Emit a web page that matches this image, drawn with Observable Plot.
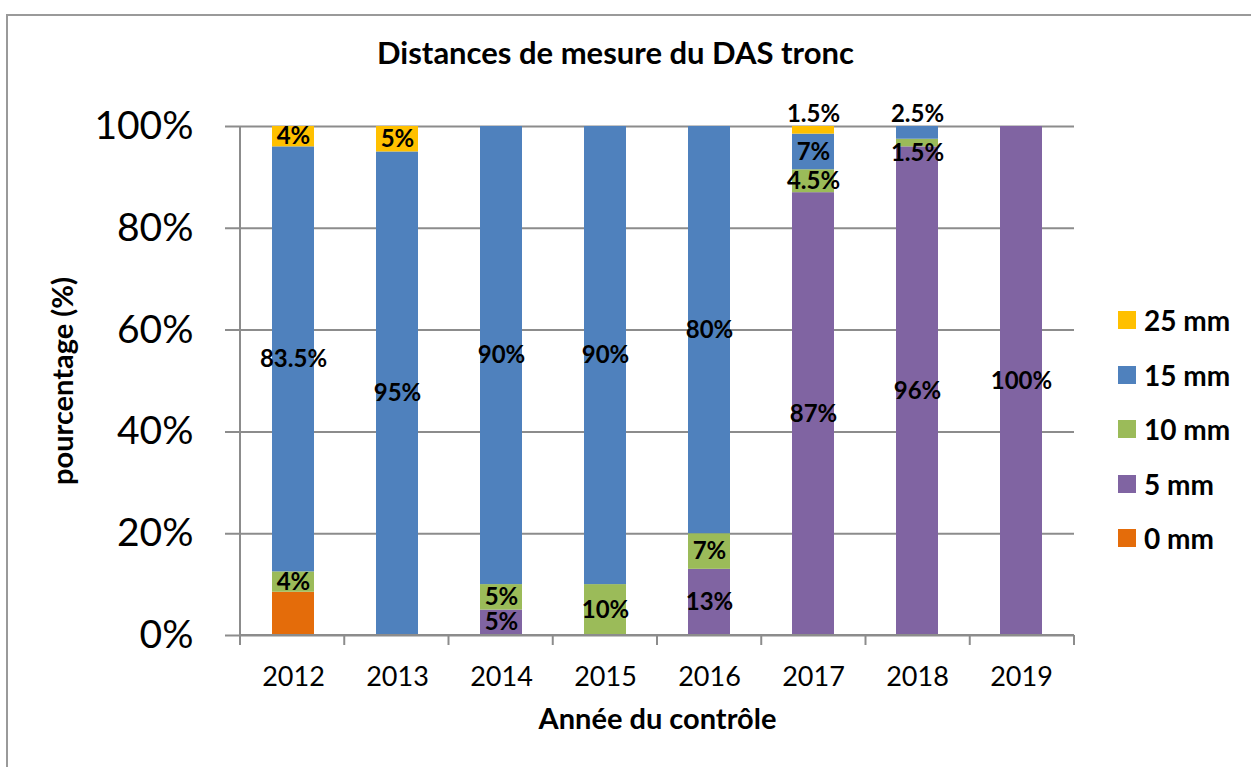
<!DOCTYPE html>
<html><head><meta charset="utf-8">
<script src="https://cdn.jsdelivr.net/npm/d3@7"></script>
<script src="https://cdn.jsdelivr.net/npm/@observablehq/plot@0.6"></script>
<style>
body{margin:0;background:#fff;font-family:Lato,"Open Sans",sans-serif;}
#wrap{position:relative;width:1251px;height:767px;overflow:hidden;}
#frame{position:absolute;left:6px;top:14px;width:1300px;height:800px;border-top:2px solid #9a9a9a;border-left:2px solid #9a9a9a;}
#title{position:absolute;left:0;width:1231px;top:35px;text-align:center;font:bold 31px Lato,sans-serif;line-height:34px;color:#000;}
#legend{position:absolute;left:1118px;top:0;}
.li{position:absolute;left:0;height:24px;display:flex;align-items:center;white-space:nowrap;font:bold 28px Lato,sans-serif;color:#000;}
.sw{width:18px;height:18px;margin-right:8px;display:inline-block;}
#plot{position:absolute;left:0;top:0;}
</style></head>
<body>
<div id="wrap">
<div id="frame"></div>
<div id="plot"></div>
<div id="title">Distances de mesure du DAS tronc</div>
<div id="legend"></div>
</div>
<script>
const years = ["2012","2013","2014","2015","2016","2017","2018","2019"];
const seriesNames = ["0 mm","5 mm","10 mm","15 mm","25 mm"];
const seriesColors = ["#E46C0A","#8064A2","#9BBB59","#4F81BD","#FFC000"];
const s0mm  = [8.5, 0, 0, 0, 0, 0, 0, 0];
const s5mm  = [0, 0, 5, 0, 13, 87, 96, 100];
const s10mm = [4, 0, 5, 10, 7, 4.5, 1.5, 0];
const s15mm = [83.5, 95, 90, 90, 80, 7, 2.5, 0];
const s25mm = [4, 5, 0, 0, 0, 1.5, 0, 0];
const yTicks = [0, 20, 40, 60, 80, 100];

const seriesValues = [s0mm, s5mm, s10mm, s15mm, s25mm];
const rows = [];
seriesNames.forEach((s, si) => years.forEach((y, yi) => {
  rows.push({year: y, series: s, value: seriesValues[si][yi]});
}));
const fmt = v => String(v) + "%";
// thin segments at the very top of a bar get their label above the bar
const isTopThin = d => d.value > 0 && d.value <= 2.5 && (d.series === "25 mm" || (d.series === "15 mm" && d.year === "2018"));
const isBelowThin = d => d.series === "10 mm" && d.year === "2018";
const showCentred = d => d.value > 0 && d.series !== "0 mm" && !isTopThin(d) && !isBelowThin(d);

const axisLines = (index, scales, values, dim) => {
  const g = d3.create("svg:g");
  const L = dim.marginLeft, R = dim.width - dim.marginRight;
  const T = dim.marginTop, B = dim.height - dim.marginBottom;
  g.append("line").attr("x1", L).attr("x2", L).attr("y1", T).attr("y2", B)
    .attr("stroke", "#8c8c8c").attr("stroke-width", 2);
  g.append("line").attr("x1", L).attr("x2", R).attr("y1", B).attr("y2", B)
    .attr("stroke", "#8c8c8c").attr("stroke-width", 2);
  const n = years.length, step = (R - L) / n;
  for (let i = 0; i <= n; i++) {
    g.append("line").attr("x1", L + i * step).attr("x2", L + i * step)
      .attr("y1", B).attr("y2", B + 10).attr("stroke", "#8c8c8c").attr("stroke-width", 2);
  }
  return g.node();
};

const chart = Plot.plot({
  width: 1251, height: 767,
  marginLeft: 240, marginRight: 177, marginTop: 126, marginBottom: 132,
  style: {fontFamily: "Lato, sans-serif", background: "transparent", overflow: "visible"},
  x: {domain: years, paddingInner: 0.6, paddingOuter: 0.3, label: null},
  y: {domain: [0, 100], label: null},
  color: {domain: seriesNames, range: seriesColors},
  marks: [
    Plot.ruleY(yTicks, {stroke: "#8c8c8c", strokeWidth: 2, insetLeft: -15}),
    Plot.axisY(yTicks, {tickFormat: fmt, tickSize: 0, tickPadding: 47, fontSize: 39, label: null}),
    Plot.axisX({tickSize: 0, tickPadding: 31, fontSize: 27, label: null}),
    Plot.barY(rows, Plot.stackY({x: "year", y: "value", fill: "series", order: seriesNames})),
    axisLines,
    Plot.text(rows, Plot.stackY({
      x: "year", y: "value", z: "series", order: seriesNames,
      text: d => showCentred(d) ? fmt(d.value) : null,
      fontSize: 24, fontWeight: "bold", fill: "#000"
    })),
    Plot.text(rows, Plot.stackY({
      x: "year", y: "value", z: "series", order: seriesNames,
      text: d => isBelowThin(d) ? fmt(d.value) : null,
      fontSize: 24, fontWeight: "bold", fill: "#000", dy: 10
    })),
    Plot.text(rows, Plot.stackY2({
      x: "year", y: "value", z: "series", order: seriesNames,
      text: d => isTopThin(d) ? fmt(d.value) : null,
      fontSize: 24, fontWeight: "bold", fill: "#000", dy: -12
    })),
    Plot.text(["pourcentage (%)"], {frameAnchor: "left", textAnchor: "middle", dx: -177, rotate: -90, fontSize: 29, fontWeight: "bold", fill: "#000", text: d => d}),
    Plot.text(["Année du contrôle"], {frameAnchor: "bottom", dy: 93, fontSize: 29, fontWeight: "bold", fill: "#000", text: d => d})
  ]
});
document.getElementById("plot").appendChild(chart);

const legend = document.getElementById("legend");
const legendOrder = seriesNames.slice().reverse();
legendOrder.forEach((s, i) => {
  const div = document.createElement("div");
  div.className = "li";
  div.style.top = (308 + i * 54.5) + "px";
  const sw = document.createElement("span");
  sw.className = "sw";
  sw.style.background = seriesColors[seriesNames.indexOf(s)];
  div.appendChild(sw);
  div.appendChild(document.createTextNode(s));
  legend.appendChild(div);
});
</script>
</body></html>
